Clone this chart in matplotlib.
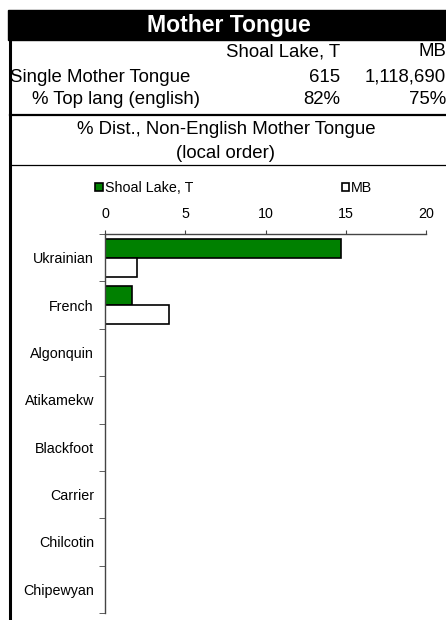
import matplotlib
matplotlib.use("Agg")
import matplotlib.pyplot as plt
import numpy as np

# data
languages = ["Ukrainian", "French", "Algonquin", "Atikamekw", "Blackfoot",
             "Carrier", "Chilcotin", "Chipewyan"]
local_pct = [14.7, 1.7, 0, 0, 0, 0, 0, 0]
prov_pct = [2.0, 4.0, 0, 0, 0, 0, 0, 0]
x_ticks = [0, 5, 10, 15, 20]

place = "Shoal Lake, T"
prov = "MB"
single_mt = ["615", "1,118,690"]
top_lang = ["82%", "75%"]

plt.rcParams["font.family"] = ["Liberation Sans", "DejaVu Sans"]

W, H = 446, 620
fig = plt.figure(figsize=(W / 100, H / 100), dpi=100)


def fx(px):
    return px / W


def fy(py):
    return 1 - py / H


# header block
fig.patches.append(plt.Rectangle((fx(8), fy(40)), fx(W - 8), (40 - 10) / H,
                                 transform=fig.transFigure, color="black"))
fig.text(fx(229), fy(25.5), "Mother Tongue", color="white", fontsize=16.6,
         fontweight="bold", ha="center", va="center")

# left border
fig.add_artist(plt.Line2D([fx(9.5), fx(9.5)], [fy(40), fy(620)], color="black",
                          lw=2.2, transform=fig.transFigure))

fs = 13.4
fig.text(fx(340), fy(52), place, fontsize=fs, ha="right", va="center")
fig.text(fx(446), fy(52), prov, fontsize=fs, ha="right", va="center")
fig.text(fx(10), fy(77), "Single Mother Tongue", fontsize=fs, ha="left", va="center")
fig.text(fx(340), fy(77), single_mt[0], fontsize=fs, ha="right", va="center")
fig.text(fx(446), fy(77), single_mt[1], fontsize=fs, ha="right", va="center")
fig.text(fx(116.5), fy(100), "% Top lang (english)", fontsize=fs, ha="center", va="center")
fig.text(fx(340), fy(100), top_lang[0], fontsize=fs, ha="right", va="center")
fig.text(fx(446), fy(100), top_lang[1], fontsize=fs, ha="right", va="center")

fig.add_artist(plt.Line2D([fx(10), fx(446)], [fy(115), fy(115)], color="black",
                          lw=1.6, transform=fig.transFigure))
fig.text(fx(226), fy(130), "% Dist., Non-English Mother Tongue", fontsize=fs,
         ha="center", va="center")
fig.text(fx(226), fy(153), "(local order)", fontsize=fs, ha="center", va="center")
fig.add_artist(plt.Line2D([fx(10), fx(446)], [fy(165), fy(165)], color="black",
                          lw=0.9, transform=fig.transFigure))

# bar chart
ax = fig.add_axes([fx(105), fy(613), fx(426) - fx(105), (613 - 234) / H])
y = np.arange(len(languages))
b1 = ax.barh(y - 0.2, local_pct, height=0.4, color="#008000", edgecolor="black",
             linewidth=1.2, label=place)
b2 = ax.barh(y + 0.2, prov_pct, height=0.4, color="white", edgecolor="black",
             linewidth=1.2, label=prov)

ax.set_xlim(0, 20)
ax.set_ylim(len(languages) - 0.5, -0.5)
ax.set_xticks(x_ticks)
ax.xaxis.tick_top()
ax.tick_params(axis="x", direction="out", length=3, pad=6, labelsize=10.3,
               color="#444444")
ax.set_yticks(y)
ax.set_yticklabels(languages)
ax.set_yticks(np.arange(len(languages) + 1) - 0.5, minor=True)
ax.tick_params(axis="y", which="major", length=0, pad=8, labelsize=10.3)
ax.tick_params(axis="y", which="minor", direction="out", length=4, color="#444444")
for s in ["right", "bottom"]:
    ax.spines[s].set_visible(False)
for s in ["top", "left"]:
    ax.spines[s].set_color("#444444")
    ax.spines[s].set_linewidth(1)

fig.legend(handles=[b1, b2], loc="center", bbox_to_anchor=(fx(234), fy(188)),
           ncol=2, frameon=False, fontsize=10.3, handlelength=0.5,
           handleheight=0.5, handletextpad=0.15, columnspacing=10.4,
           borderpad=0)

fig.savefig("out.png", dpi=100)
